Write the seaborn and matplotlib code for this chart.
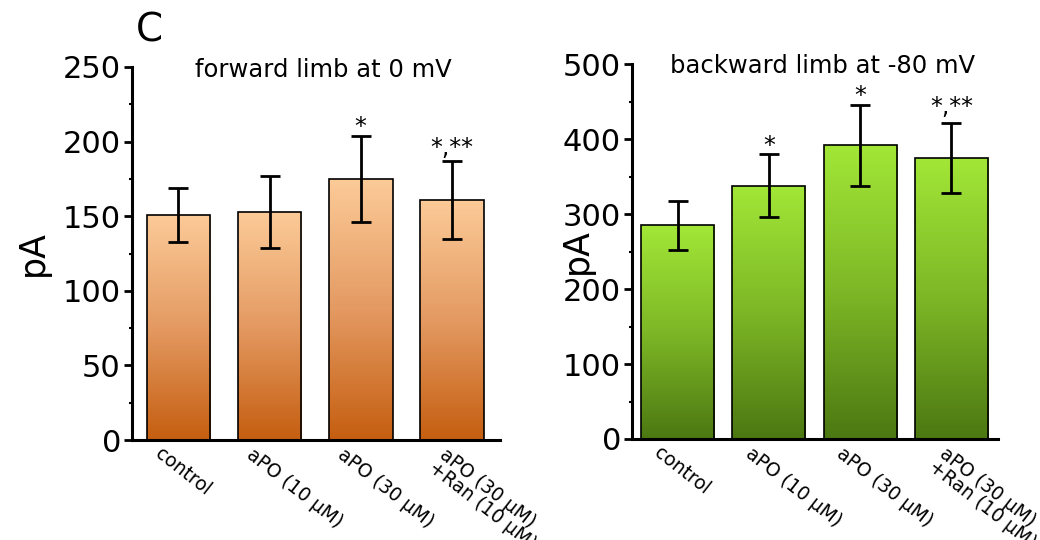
import numpy as np
import pandas as pd
import matplotlib
matplotlib.use("Agg")
import matplotlib.pyplot as plt
import matplotlib.transforms as mtransforms
from matplotlib.colors import LinearSegmentedColormap
from matplotlib.ticker import MultipleLocator
import seaborn as sns

# ---- data ----
categories = ["control", "aPO (10 \u03bcM)", "aPO (30 \u03bcM)", "aPO (30 \u03bcM)\n+Ran (10 \u03bcM)"]
forward_mean = [151, 153, 175, 161]
forward_err = [18, 24, 29, 26]
forward_sig = ["", "", "*", "*,**"]
backward_mean = [285, 338, 392, 375]
backward_err = [33, 42, 54, 47]
backward_sig = ["", "*", "*", "*,**"]
forward_title = "forward limb at 0 mV"
backward_title = "backward limb at -80 mV"
ylabel = "pA"
panel_label = "C"

sns.set_theme(style="ticks")
plt.rcParams["font.family"] = ["DejaVu Sans"]
plt.rcParams.update({"text.color": "black", "axes.labelcolor": "black",
                     "xtick.color": "black", "ytick.color": "black"})

fig = plt.figure(figsize=(10.4, 5.4), dpi=100)
axL = fig.add_axes([132/1040, 1-440/540, 368/1040, 373/540])
axR = fig.add_axes([632/1040, 1-439/540, 366/1040, 375/540])

cmapL = LinearSegmentedColormap.from_list("orng", ["#C55E10", "#E49A62", "#FCCB98"])
cmapR = LinearSegmentedColormap.from_list("grn", ["#4C7812", "#7DB726", "#A2E737"])


def draw(ax, means, errs, sigs, cmap, width, ylim, major, minor, xlim, title, tx, ty, sigoff):
    df = pd.DataFrame({"cat": categories, "val": means})
    sns.barplot(data=df, x="cat", y="val", ax=ax, width=width, errorbar=None,
                color="white", edgecolor="black", linewidth=1.2, zorder=2)
    grad = np.linspace(0, 1, 256).reshape(-1, 1)
    for p in ax.patches:
        x0, y0 = p.get_x(), p.get_y()
        w, h = p.get_width(), p.get_height()
        im = ax.imshow(grad, cmap=cmap, origin="lower", aspect="auto",
                       extent=[x0, x0 + w, y0, y0 + h], zorder=1.5,
                       interpolation="bilinear")
        im.set_clip_path(p)
        p.set_facecolor("none")
        p.set_zorder(3)
    xs = np.arange(len(means))
    ax.errorbar(xs, means, yerr=errs, fmt="none", ecolor="black",
                elinewidth=2.0, capsize=7, capthick=2.0, zorder=4)
    for x, m, e, s in zip(xs, means, errs, sigs):
        if s:
            ax.annotate(s, (x, m + e), xytext=(0, sigoff[s]), textcoords="offset points",
                        ha="center", va="baseline", fontsize=17, zorder=5)
    ax.set_xlim(*xlim)
    ax.set_ylim(*ylim)
    ax.yaxis.set_major_locator(MultipleLocator(major))
    ax.yaxis.set_minor_locator(MultipleLocator(minor))
    ax.tick_params(axis="y", which="major", direction="out", length=6, width=2,
                   labelsize=22, pad=2, colors="black")
    ax.tick_params(axis="y", which="minor", direction="out", length=2.5, width=1.5)
    ax.tick_params(axis="x", length=0, pad=4, colors="black")
    for sp in ["top", "right"]:
        ax.spines[sp].set_visible(False)
    for sp in ["left", "bottom"]:
        ax.spines[sp].set_linewidth(2.2)
        ax.spines[sp].set_color("black")
    ax.set_xlabel("")
    ax.set_ylabel(ylabel, fontsize=25, color="black")
    ax.set_xticks(xs)
    ax.set_xticklabels(categories, rotation=-38, ha="left", va="top",
                       rotation_mode="anchor", fontsize=13.5, linespacing=0.9)
    for i, lab in enumerate(ax.get_xticklabels()):
        dx = -15 if "\n" not in lab.get_text() else -4
        offset = mtransforms.ScaledTranslation(dx/100, 1/100, fig.dpi_scale_trans)
        lab.set_transform(lab.get_transform() + offset)
    ax.text(tx, ty, title, transform=ax.transAxes, ha="center", va="baseline", fontsize=17.5)


draw(axL, forward_mean, forward_err, forward_sig, cmapL, 0.70, (0, 250), 50, 25,
     (-0.51, 3.53), forward_title, 0.519, 0.973, {"*": 1, "*,**": 4})
draw(axR, backward_mean, backward_err, backward_sig, cmapR, 0.80, (0, 500), 100, 50,
     (-0.50, 3.51), backward_title, 0.522, 0.976, {"*": 1, "*,**": 6})

axL.yaxis.set_label_coords(-0.222, 0.5)
axR.yaxis.set_label_coords(-0.104, 0.5)

fig.text(136/1040, 1-42/540, panel_label, fontsize=28, ha="left", va="baseline")

fig.savefig("out.png", dpi=100)
